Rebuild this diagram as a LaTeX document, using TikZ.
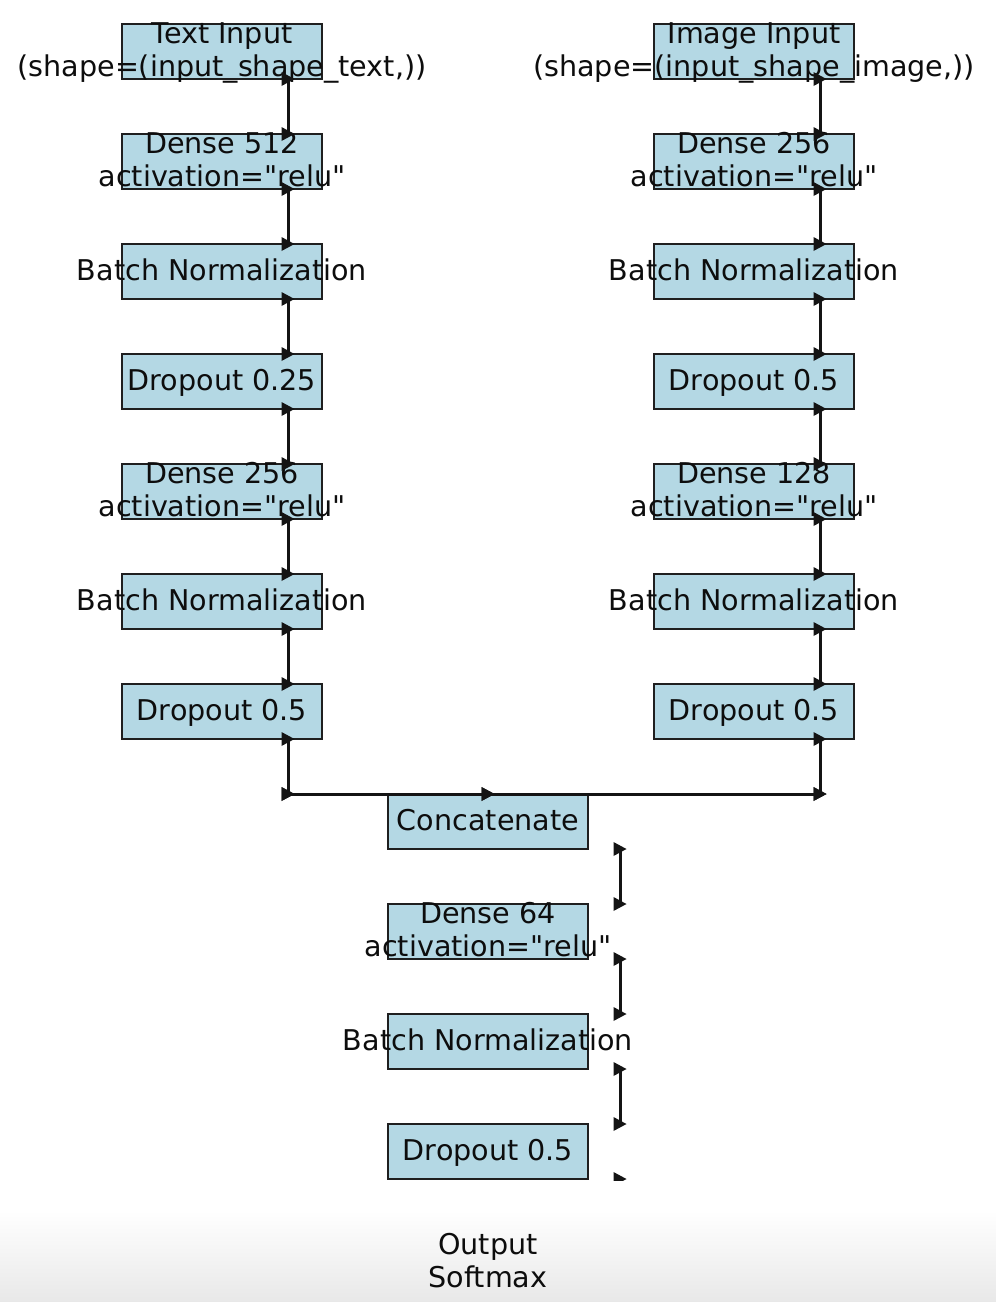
\documentclass[tikz,border=0pt]{standalone}
\usepackage{fontspec}
\setmainfont{DejaVu Sans}
\newfontfamily\dvs{DejaVu Sans}
\usetikzlibrary{decorations.markings,calc}
\definecolor{boxblue}{RGB}{180,216,228}
\newcommand\mkTri{\pgftransformresetnontranslations\fill[black!92] (-6.5,-7) -- (6.5,0) -- (-6.5,7) -- cycle;}
\begin{document}
\begin{tikzpicture}[x=1pt,y=-1pt,
  layer/.style={draw=black!88,fill=boxblue,line width=1.9pt,minimum width=200pt,minimum height=55pt,inner sep=0pt,outer sep=0pt,anchor=north west},
  txt/.style={font=\dvs\fontsize{28.6}{33}\selectfont,align=center,inner sep=0pt,text=black!95,yshift=2pt},
  one/.style={txt,text height=21.7pt,text depth=0pt},
  two/.style={txt,yshift=-0.5pt},
  inp/.style={txt,yshift=-3pt},
  conn/.style={draw=black!92,line width=3pt,postaction={decorate},decoration={markings,mark=at position 0 with {\mkTri},mark=at position 1 with {\mkTri}}}]
\useasboundingbox (0,0) rectangle (996,1302);
\fill[white] (0,0) rectangle (996,1302);
\shade[top color=white,bottom color=black!9] (0,1210) rectangle (996,1302);
\node[txt,yshift=-2pt] (out) at (488,1261) {Output\\Softmax};
\coordinate (outtop) at (620,1234);
\coordinate (jl) at (288,794);
\coordinate (jr) at (820,794);
\begin{scope}
\clip (0,0) rectangle (996,1180);
% left column
\node[layer] (l1) at (122,24) {};
\node[layer] (l2) at (122,134) {};
\node[layer] (l3) at (122,244) {};
\node[layer] (l4) at (122,354) {};
\node[layer] (l5) at (122,464) {};
\node[layer] (l6) at (122,574) {};
\node[layer] (l7) at (122,684) {};
% right column
\node[layer] (r1) at (654,24) {};
\node[layer] (r2) at (654,134) {};
\node[layer] (r3) at (654,244) {};
\node[layer] (r4) at (654,354) {};
\node[layer] (r5) at (654,464) {};
\node[layer] (r6) at (654,574) {};
\node[layer] (r7) at (654,684) {};
% middle column
\node[layer] (m1) at (388,794) {};
\node[layer] (m2) at (388,904) {};
\node[layer] (m3) at (388,1014) {};
\node[layer] (m4) at (388,1124) {};
% texts
\node[inp] at (l1) {Text Input\\(shape=(input\_shape\_text,))};
\node[two] at (l2) {Dense 512\\activation="relu"};
\node[one] at (l3) {Batch Normalization};
\node[one] at (l4) {Dropout 0.25};
\node[two] at (l5) {Dense 256\\activation="relu"};
\node[one] at (l6) {Batch Normalization};
\node[one] at (l7) {Dropout 0.5};
\node[inp] at (r1) {Image Input\\(shape=(input\_shape\_image,))};
\node[two] at (r2) {Dense 256\\activation="relu"};
\node[one] at (r3) {Batch Normalization};
\node[one] at (r4) {Dropout 0.5};
\node[two] at (r5) {Dense 128\\activation="relu"};
\node[one] at (r6) {Batch Normalization};
\node[one] at (r7) {Dropout 0.5};
\node[one] at (m1) {Concatenate};
\node[two] at (m2) {Dense 64\\activation="relu"};
\node[one] at (m3) {Batch Normalization};
\node[one] at (m4) {Dropout 0.5};
% connectors
\foreach \a/\b in {l1/l2,l2/l3,l3/l4,l4/l5,l5/l6,l6/l7,r1/r2,r2/r3,r3/r4,r4/r5,r5/r6,r6/r7}
  \draw[conn] ([xshift=-34pt]\a.south east) -- ([xshift=-34pt]\b.north east);
\draw[conn] ([xshift=-34pt]l7.south east) -- (jl);
\draw[conn] ([xshift=-34pt]r7.south east) -- (jr);
\draw[conn] (jl) -- (m1.north);
\draw[conn] (jr) -- (m1.north);
\foreach \a/\b in {m1/m2,m2/m3,m3/m4}
  \draw[conn] ([xshift=32pt]\a.south east) -- ([xshift=32pt]\b.north east);
\draw[conn] ([xshift=32pt]m4.south east) -- (outtop);
\end{scope}
\end{tikzpicture}
\end{document}
